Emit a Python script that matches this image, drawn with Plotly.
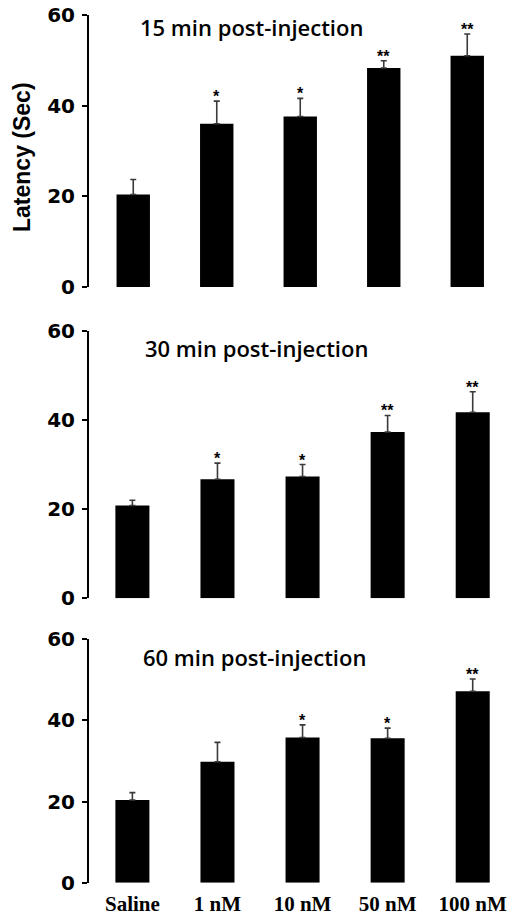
import plotly.graph_objects as go

categories = ["Saline", "1 nM", "10 nM", "50 nM", "100 nM"]

panel_titles = ["15 min post-injection", "30 min post-injection", "60 min post-injection"]

means_15 = [20.4, 36.0, 37.6, 48.3, 51.0]
err_15 = [3.3, 5.0, 4.0, 1.6, 4.8]
stars_15 = ["", "*", "*", "**", "**"]

means_30 = [20.8, 26.7, 27.3, 37.3, 41.7]
err_30 = [1.2, 3.6, 2.7, 3.7, 4.6]
stars_30 = ["", "*", "*", "**", "**"]

means_60 = [20.4, 29.8, 35.8, 35.6, 47.2]
err_60 = [1.8, 4.8, 3.1, 2.5, 3.0]
stars_60 = ["", "", "*", "*", "**"]

y_ticks = [0, 20, 40, 60]

W, H = 514, 917

def px_x(p):
    return p / W

def px_y(p):
    return 1 - p / H

panels = [
    dict(means=means_15, err=err_15, stars=stars_15, xd=(89, 509), yd=(15, 287), xr=[-0.53, 4.5], title_xy=(251.5, 27.5)),
    dict(means=means_30, err=err_30, stars=stars_30, xd=(89, 511), yd=(330.7, 598.3), xr=[-0.51, 4.45], title_xy=(256.5, 348)),
    dict(means=means_60, err=err_60, stars=stars_60, xd=(89, 511), yd=(639.3, 882.7), xr=[-0.51, 4.45], title_xy=(254, 656.5)),
]

fig = go.Figure()
annotations = []
layout = {}
tick_font = dict(family="DejaVu Sans", size=20, color="black", weight="bold")

for i, p in enumerate(panels):
    n = "" if i == 0 else str(i + 1)
    fig.add_trace(go.Bar(
        x=categories, y=p["means"],
        xaxis="x" + n, yaxis="y" + n,
        marker=dict(color="black", line=dict(width=0)),
        width=0.4,
        error_y=dict(type="data", array=p["err"], arrayminus=[0] * len(p["err"]),
                     symmetric=False, color="#3a3a3a", thickness=1.6, width=3),
        showlegend=False,
    ))
    layout["xaxis" + n] = dict(
        domain=[px_x(p["xd"][0]), px_x(p["xd"][1])],
        anchor="y" + n, range=p["xr"], type="category",
        showline=False, showgrid=False, zeroline=False, ticks="",
        showticklabels=(i == 2), ticklabelstandoff=6,
        tickfont=dict(family="Liberation Serif", size=21, color="black", weight="bold"),
        ticklabeloverflow="allow",
        automargin=False,
    )
    layout["yaxis" + n] = dict(
        domain=[px_y(p["yd"][1]), px_y(p["yd"][0])],
        anchor="x" + n, range=[0, 60],
        tickvals=y_ticks, ticktext=[str(v) for v in y_ticks],
        showline=True, linecolor="black", linewidth=2,
        ticks="outside", ticklen=5, tickwidth=2, tickcolor="black",
        showgrid=False, zeroline=False,
        tickfont=tick_font, ticklabelstandoff=3,
        ticklabeloverflow="allow",
        automargin=False,
    )
    for c, m, e, s in zip(categories, p["means"], p["err"], p["stars"]):
        if s:
            annotations.append(dict(
                x=c, y=m + e, xref="x" + n, yref="y" + n,
                text=s, showarrow=False, yanchor="bottom", yshift=-6,
                font=dict(family="Liberation Sans", size=16, color="black", weight="bold"),
            ))
    tx, ty = p["title_xy"]
    annotations.append(dict(
        x=px_x(tx), y=px_y(ty), xref="paper", yref="paper",
        text=panel_titles[i], showarrow=False, xanchor="center", yanchor="middle",
        font=dict(family="Open Sans", size=22, color="black", weight=600),
    ))

annotations.append(dict(
    x=px_x(22), y=px_y(157), xref="paper", yref="paper",
    text="Latency (Sec)", showarrow=False, textangle=-90,
    xanchor="center", yanchor="middle",
    font=dict(family="Liberation Sans", size=23, color="black", weight="bold"),
))

fig.update_layout(
    width=W, height=H,
    margin=dict(l=0, r=0, t=0, b=0),
    paper_bgcolor="white", plot_bgcolor="white",
    annotations=annotations,
    **layout,
)

# remove the browser's default 8px body margin so the figure sits at the page origin
fig.write_html("out.html", config={"displayModeBar": False},
               post_script="document.body.style.margin='0px';")
